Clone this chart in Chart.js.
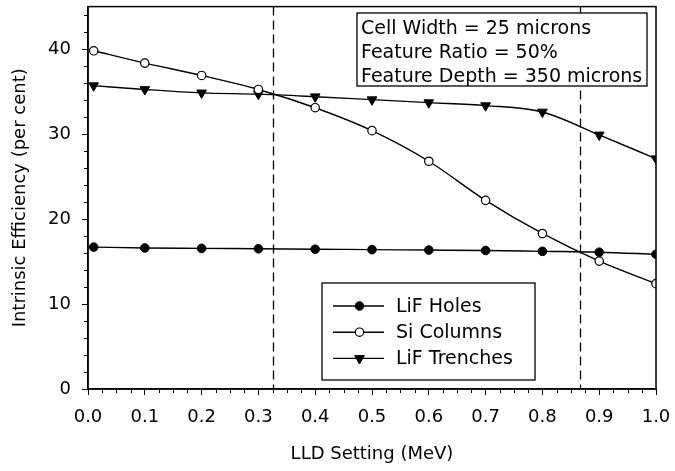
<!DOCTYPE html>
<html><head><meta charset="utf-8">
<script src="https://cdn.jsdelivr.net/npm/chart.js@4/dist/chart.umd.min.js"></script>
<style>html,body{margin:0;padding:0;background:#fff}</style>
</head><body>
<canvas id="c" width="675" height="471" style="display:block;width:675px;height:471px"></canvas>
<script>
const lldSettings = [0.01, 0.1, 0.2, 0.3, 0.4, 0.5, 0.6, 0.7, 0.8, 0.9, 1.0];
const lifHoles    = [16.7, 16.6, 16.55, 16.5, 16.45, 16.4, 16.35, 16.3, 16.2, 16.1, 15.85];
const siColumns   = [39.8, 38.35, 36.9, 35.25, 33.1, 30.4, 26.8, 22.2, 18.3, 15.05, 12.4];
const lifTrenches = [35.7, 35.25, 34.85, 34.7, 34.4, 34.05, 33.7, 33.35, 32.6, 29.9, 27.1];
const seriesLabels = ['LiF Holes', 'Si Columns', 'LiF Trenches'];
const xTickValues = [0, 0.1, 0.2, 0.3, 0.4, 0.5, 0.6, 0.7, 0.8, 0.9, 1.0];
const yTickValues = [0, 10, 20, 30, 40];
const thresholdLines = [0.326, 0.866];
const infoLines = ['Cell Width = 25 microns', 'Feature Ratio = 50%', 'Feature Depth = 350 microns'];
const xTitle = 'LLD Setting (MeV)';
const yTitle = 'Intrinsic Efficiency (per cent)';

const FONT = '"DejaVu Sans", sans-serif';
const toPts = ys => lldSettings.map((x, i) => ({x, y: ys[i]}));

const markerStyles = [
  {pointStyle: 'circle', pointRadius: 4.3, pointBackgroundColor: '#000', pointBorderWidth: 1, pointRotation: 0},
  {pointStyle: 'circle', pointRadius: 4.2, pointBackgroundColor: '#fff', pointBorderWidth: 1.2, pointRotation: 0},
  {pointStyle: 'triangle', pointRadius: 5.6, pointBackgroundColor: '#000', pointBorderWidth: 1, pointRotation: 180}
];
const seriesData = [lifHoles, siColumns, lifTrenches];

const datasets = seriesData.map((d, i) => Object.assign({
  label: seriesLabels[i],
  data: toPts(d),
  borderColor: '#000',
  borderWidth: 1.4,
  pointBorderColor: '#000',
  cubicInterpolationMode: 'monotone',
  fill: false
}, markerStyles[i]));

function drawMarker(ctx, st, x, y) {
  ctx.save();
  ctx.fillStyle = st.pointBackgroundColor;
  ctx.strokeStyle = '#000';
  ctx.lineWidth = st.pointBorderWidth;
  ctx.beginPath();
  if (st.pointStyle === 'circle') {
    ctx.arc(x, y, st.pointRadius, 0, Math.PI * 2);
  } else {
    const r = st.pointRadius;
    let rad = st.pointRotation * Math.PI / 180;
    ctx.moveTo(x + Math.sin(rad) * r, y - Math.cos(rad) * r);
    rad += 2 * Math.PI / 3;
    ctx.lineTo(x + Math.sin(rad) * r, y - Math.cos(rad) * r);
    rad += 2 * Math.PI / 3;
    ctx.lineTo(x + Math.sin(rad) * r, y - Math.cos(rad) * r);
    ctx.closePath();
  }
  ctx.fill();
  ctx.stroke();
  ctx.restore();
}

const decor = {
  id: 'decor',
  beforeDatasetsDraw(chart) {
    const {ctx, chartArea: a, scales: {x}} = chart;
    ctx.save();
    ctx.strokeStyle = '#000';
    ctx.lineWidth = 1.3;
    ctx.setLineDash([9, 5]);
    thresholdLines.forEach(v => {
      const px = Math.round(x.getPixelForValue(v)) + 0.5;
      ctx.beginPath(); ctx.moveTo(px, a.top); ctx.lineTo(px, a.bottom); ctx.stroke();
    });
    ctx.restore();
  },
  afterDraw(chart) {
    const {ctx, chartArea: a, scales: {x, y}} = chart;
    ctx.save();
    ctx.strokeStyle = '#000';
    ctx.lineWidth = 1.5;
    ctx.strokeRect(a.left, a.top, a.right - a.left, a.bottom - a.top);
    // minor ticks
    ctx.lineWidth = 1;
    ctx.beginPath();
    for (let i = 0; i <= 40; i++) {
      if (i % 4 === 0) continue;
      const px = Math.round(x.getPixelForValue(i / 40)) + 0.5;
      ctx.moveTo(px, a.bottom); ctx.lineTo(px, a.bottom + 4);
    }
    for (let v = 2; v <= 44; v += 2) {
      if (v % 10 === 0) continue;
      const py = Math.round(y.getPixelForValue(v)) + 0.5;
      ctx.moveTo(a.left, py); ctx.lineTo(a.left - 4, py);
    }
    ctx.stroke();

    // info box
    ctx.fillStyle = '#fff';
    ctx.fillRect(357, 13, 290, 73);
    ctx.lineWidth = 1.3;
    ctx.strokeRect(357, 13, 290, 73);
    ctx.fillStyle = '#000';
    ctx.font = '19px ' + FONT;
    ctx.textBaseline = 'alphabetic';
    ctx.textAlign = 'left';
    infoLines.forEach((t, i) => ctx.fillText(t, 361, 33.5 + i * 24.2));

    // legend
    ctx.fillStyle = '#fff';
    ctx.fillRect(322, 283, 213, 97);
    ctx.strokeRect(322, 283, 213, 97);
    ctx.font = '19px ' + FONT;
    chart.data.datasets.forEach((ds, i) => {
      const cy = 306 + i * 26.2;
      ctx.strokeStyle = '#000';
      ctx.lineWidth = 1.4;
      ctx.beginPath(); ctx.moveTo(333, cy); ctx.lineTo(384, cy); ctx.stroke();
      drawMarker(ctx, markerStyles[i], 359.5, cy);
      ctx.fillStyle = '#000';
      ctx.textBaseline = 'middle';
      ctx.fillText(ds.label, 396, cy + 1);
    });
    ctx.restore();
  }
};

function zeroPad(s) { s.paddingTop = 0; s.paddingBottom = 0; s.paddingLeft = 0; s.paddingRight = 0; }

new Chart(document.getElementById('c'), {
  type: 'line',
  data: {datasets},
  options: {
    responsive: false,
    devicePixelRatio: 1,
    animation: false,
    layout: {padding: {left: 0, top: 6, right: 19, bottom: 0}},
    plugins: {legend: {display: false}, tooltip: {enabled: false}},
    scales: {
      x: {
        type: 'linear', min: 0, max: 1,
        afterBuildTicks: s => { s.ticks = xTickValues.map(v => ({value: v})); },
        afterFit: s => { s.height = 82; zeroPad(s); },
        grid: {drawOnChartArea: false, drawTicks: true, tickLength: 6, color: '#000', lineWidth: 1},
        border: {display: true, color: '#000', width: 1.5},
        ticks: {color: '#000', font: {family: FONT, size: 18}, padding: 12, maxRotation: 0,
                callback: v => Number(v).toFixed(1)},
        title: {display: true, text: xTitle, color: '#000', font: {family: FONT, size: 18}, padding: {top: 0, bottom: 6}}
      },
      y: {
        type: 'linear', min: 0, max: 45,
        afterBuildTicks: s => { s.ticks = yTickValues.map(v => ({value: v})); },
        afterFit: s => { s.width = 88; zeroPad(s); },
        grid: {drawOnChartArea: false, drawTicks: true, tickLength: 6, color: '#000', lineWidth: 1},
        border: {display: true, color: '#000', width: 1.5},
        ticks: {color: '#000', font: {family: FONT, size: 18}, padding: 11,
                callback: v => String(v)},
        title: {display: true, text: yTitle, color: '#000', font: {family: FONT, size: 18}, padding: {top: 10, bottom: 0}}
      }
    }
  },
  plugins: [decor]
});
</script>
</body></html>
